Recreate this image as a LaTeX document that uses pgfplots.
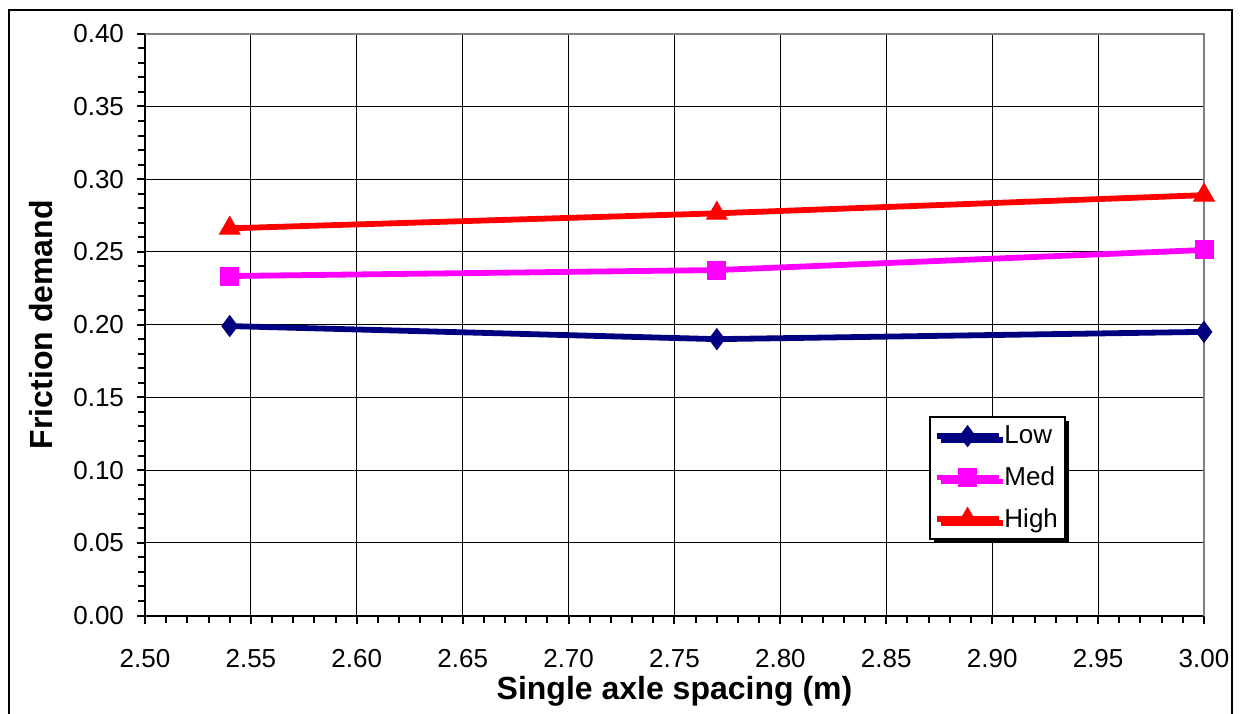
\documentclass[border=0pt]{standalone}
\usepackage{fontspec}
\setmainfont{Liberation Sans}
\usepackage{pgfplots}
\pgfplotsset{compat=1.18}
\usetikzlibrary{shadows}
\definecolor{navyc}{RGB}{0,0,128}
\definecolor{magc}{RGB}{255,0,255}
\definecolor{redc}{RGB}{255,0,0}
\definecolor{grayc}{RGB}{128,128,128}
\begin{document}
\begin{tikzpicture}
\useasboundingbox (-72.5pt,-48.75pt) rectangle (548.5pt,307.75pt);
\draw[line width=1pt] (-68pt,-60pt) -- (-68pt,302.75pt) -- (543.5pt,302.75pt) -- (543.5pt,-60pt);
\begin{axis}[at={(0,0)}, anchor=south west, scale only axis,
  width=529.5pt, height=290.9pt,
  xmin=2.5, xmax=3.0, ymin=0, ymax=0.4,
  xtick={2.50,2.55,2.60,2.65,2.70,2.75,2.80,2.85,2.90,2.95,3.00},
  ytick={0,0.05,0.10,0.15,0.20,0.25,0.30,0.35,0.40},
  minor x tick num=4, minor y tick num=4,
  tick align=outside,
  major tick length=4pt, minor tick length=3.5pt,
  tick style={black, line width=1pt},
  axis x line*=bottom, axis y line*=left,
  axis line style={black, line width=1pt, -},
  grid=major,
  major grid style={black, line width=0.5pt},
  clip=false,
  /pgf/number format/assume math mode=true,
  /pgf/number format/fixed,
  /pgf/number format/fixed zerofill,
  /pgf/number format/precision=2,
  ticklabel style={font=\fontsize{13}{15}\selectfont},
  xticklabel style={yshift=-9.5pt},
  yticklabel style={xshift=-3pt},
  xlabel={Single axle spacing (m)},
  ylabel={Friction demand},
  label style={font=\bfseries\fontsize{16}{19}\selectfont},
  xlabel style={at={(rel axis cs:0.5,0)}, anchor=base, yshift=-41.75pt},
  ylabel style={at={(rel axis cs:0,0.5)}, anchor=base, yshift=46pt},
  legend style={at={(rel axis cs:0.740,0.3434)}, anchor=north west,
    draw=black, line width=1pt, fill=white,
    font=\fontsize{13}{15}\selectfont,
    inner xsep=2pt, inner ysep=3pt, row sep=7pt,
    nodes={inner sep=1.5pt},
    drop shadow={shadow xshift=2pt, shadow yshift=-2pt, fill=black, opacity=1}},
  legend cell align=left,
  legend image code/.code={\draw[mark repeat=2,mark phase=2,#1] plot coordinates {(0pt,0pt) (15.5pt,0pt) (31pt,0pt)};},
]
\draw[grayc, line width=1pt] (rel axis cs:0,1) -- (rel axis cs:1,1) -- (rel axis cs:1,0);
\addplot[navyc, line width=2.9pt, mark=diamond*, mark size=5.2pt, mark options={solid, fill=navyc, line width=0.5pt}]
  coordinates {(2.54,0.199) (2.77,0.190) (3.00,0.195)};
\addlegendentry{Low}
\addplot[magc, line width=2.9pt, mark=square*, mark size=4.5pt, mark options={solid, fill=magc, line width=0.5pt}]
  coordinates {(2.54,0.2334) (2.77,0.2375) (3.00,0.2513)};
\addlegendentry{Med}
\addplot[redc, line width=2.9pt, mark=triangle*, mark size=5.9pt, mark options={solid, fill=redc, line width=0.5pt}]
  coordinates {(2.54,0.2662) (2.77,0.2765) (3.00,0.289)};
\addlegendentry{High}
\end{axis}
\end{tikzpicture}
\end{document}
